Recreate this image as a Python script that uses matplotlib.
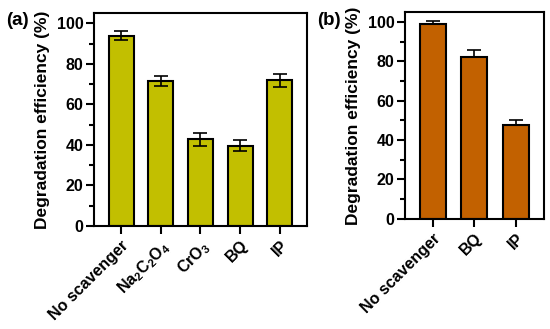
import matplotlib
matplotlib.use('agg')
import matplotlib.pyplot as plt
import numpy as np
from matplotlib.ticker import MultipleLocator

plt.rcParams['font.family'] = ['Liberation Sans', 'DejaVu Sans']
plt.rcParams['font.weight'] = 'bold'
plt.rcParams['mathtext.fontset'] = 'custom'
plt.rcParams['mathtext.rm'] = 'Liberation Sans:bold'
plt.rcParams['mathtext.bf'] = 'Liberation Sans:bold'

# panel (a)
labels_a = ['No scavenger', r'Na$\mathregular{_2}$C$\mathregular{_2}$O$\mathregular{_4}$',
            r'CrO$\mathregular{_3}$', 'BQ', 'IP']
values_a = [93.8, 71.5, 42.7, 39.6, 72.0]
errors_a = [2.2, 2.5, 3.2, 2.8, 3.2]

# panel (b)
labels_b = ['No scavenger', 'BQ', 'IP']
values_b = [99.2, 82.0, 47.5]
errors_b = [1.2, 3.8, 2.8]

color_a = '#C2BF00'
color_b = '#C26100'

fig = plt.figure(figsize=(5.5, 3.29), dpi=100)
ax1 = fig.add_axes([0.171, 0.313, 0.387, 0.647])
ax2 = fig.add_axes([0.736, 0.335, 0.253, 0.628])


def draw(ax, labels, vals, errs, color, lower):
    x = np.arange(len(labels))
    ax.bar(x, vals, width=0.63, color=color, edgecolor='black', linewidth=1.5, zorder=2)
    yerr = [errs, errs] if lower else [np.zeros(len(errs)), errs]
    ax.errorbar(x, vals, yerr=yerr, fmt='none', ecolor='black', elinewidth=1.2,
                capsize=4.8, capthick=1.2, zorder=3)
    ax.set_xticks(x)
    ax.set_xticklabels(labels, rotation=45, ha='right', rotation_mode='anchor',
                       fontsize=11.5, fontweight='bold')
    ax.set_xlim(-0.68, len(labels) - 0.32)
    ax.set_ylim(0, 105)
    ax.yaxis.set_major_locator(MultipleLocator(20))
    ax.yaxis.set_minor_locator(MultipleLocator(10))
    for s in ax.spines.values():
        s.set_linewidth(1.5)
    ax.tick_params(axis='both', which='major', width=1.5, length=6, labelsize=11.5, pad=1.5)
    ax.tick_params(axis='y', which='minor', width=1.5, length=3.5)
    ax.tick_params(axis='x', which='major', length=5.5, pad=3)
    for t in ax.get_yticklabels():
        t.set_fontweight('bold')
    ax.set_ylabel('Degradation efficiency (%)', fontsize=12.5, fontweight='bold', labelpad=5)


draw(ax1, labels_a, values_a, errors_a, color_a, True)
draw(ax2, labels_b, values_b, errors_b, color_b, False)

fig.text(0.012, 0.938, '(a)', fontsize=13.5, fontweight='bold', va='center')
fig.text(0.576, 0.938, '(b)', fontsize=13.5, fontweight='bold', va='center')

fig.savefig('out.png', dpi=100)
